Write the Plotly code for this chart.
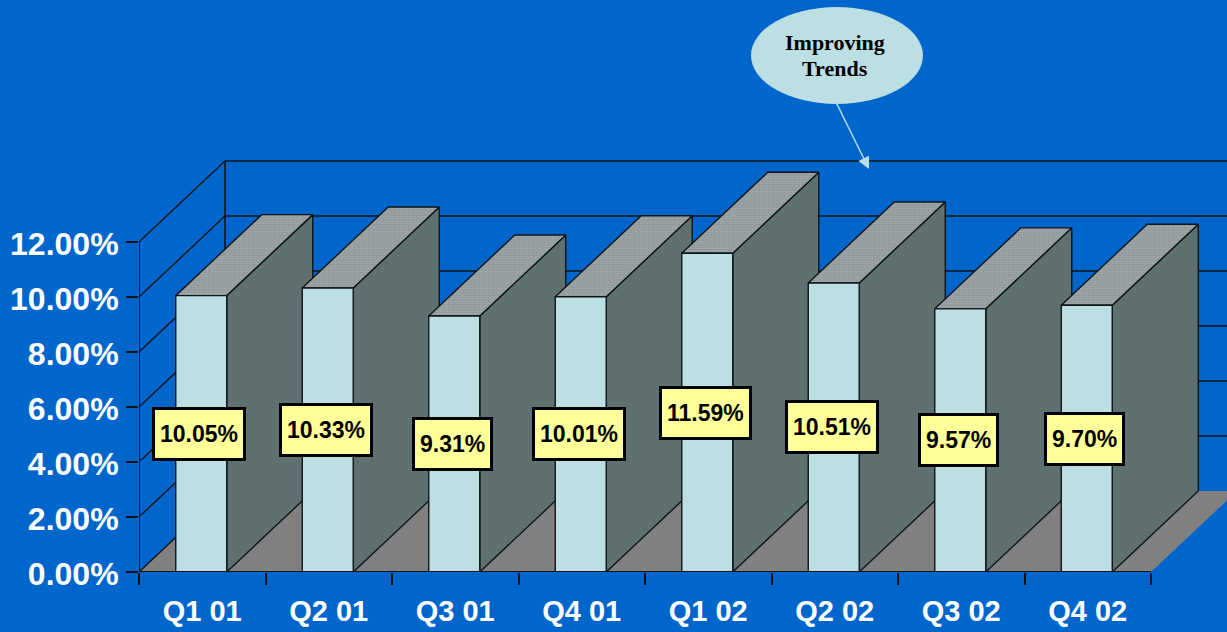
import plotly.graph_objects as go

# Quarterly figures
quarters = ["Q1 01", "Q2 01", "Q3 01", "Q4 01", "Q1 02", "Q2 02", "Q3 02", "Q4 02"]
rates = [10.05, 10.33, 9.31, 10.01, 11.59, 10.51, 9.57, 9.70]
y_ticks = [0, 2, 4, 6, 8, 10, 12]
y_tick_labels = ["0.00%", "2.00%", "4.00%", "6.00%", "8.00%", "10.00%", "12.00%"]
callout_lines = ["Improving", "Trends"]

BLUE = "#0066CC"
PALE = "#BBDFE3"
SIDE = "#5F7070"
FLOOR = "#808080"
EDGE = "#101418"

# Canvas and the scale of the front plane
WIDTH, HEIGHT = 1227, 632
LEFT, BOTTOM = 139, 60
PX_PER_CAT = 126.5
PX_PER_PCT = 27.5
X_MIN = -0.5
X_MAX = X_MIN + (WIDTH - LEFT) / PX_PER_CAT
Y_MAX = (HEIGHT - BOTTOM) / PX_PER_PCT

# Oblique depth offset of the 3-D projection, in axis units
DX = 86 / PX_PER_CAT
DY = 81 / PX_PER_PCT
BAR_W = 51 / PX_PER_CAT
BAR_SHIFT = -1 / PX_PER_CAT
X_END = len(quarters) - 0.5


def to_x(px):
    return (px - LEFT) / PX_PER_CAT + X_MIN


def to_y(px):
    return (HEIGHT - BOTTOM - px) / PX_PER_PCT


def poly(xs, ys, fill, line=True, pattern=None):
    return go.Scatter(
        x=xs, y=ys, mode="lines", fill="toself", fillcolor=fill,
        fillpattern=pattern,
        line=dict(color=EDGE if line else fill, width=1.4 if line else 0),
        hoverinfo="skip", showlegend=False,
    )


def rule(xs, ys, width=1.4):
    return go.Scatter(
        x=xs, y=ys, mode="lines", line=dict(color=EDGE, width=width),
        hoverinfo="skip", showlegend=False,
    )


fig = go.Figure()

# Back wall rules and the vertical edge behind the value axis
for t in y_ticks[1:]:
    fig.add_trace(rule([X_MIN + DX, X_MAX + 1], [t + DY, t + DY], 1.6))
fig.add_trace(rule([X_MIN + DX, X_MIN + DX], [DY, 12 + DY], 1.6))

# Floor
fig.add_trace(poly(
    [X_MIN, X_END, X_END + DX, X_MIN + DX, X_MIN],
    [0, 0, DY, DY, 0], FLOOR, line=False,
))

# Side wall diagonals
for t in y_ticks:
    fig.add_trace(rule([X_MIN, X_MIN + DX], [t, t + DY]))

# Bars, left to right so each front hides the side of its neighbour
top_pattern = dict(shape=".", size=2.5, solidity=0.4, fgcolor="#B4CCC4", bgcolor="#90969A")
for i, v in enumerate(rates):
    x0, x1 = i + BAR_SHIFT - BAR_W / 2, i + BAR_SHIFT + BAR_W / 2
    fig.add_trace(poly(
        [x1, x1 + DX, x1 + DX, x1, x1],
        [0, DY, v + DY, v, 0], SIDE,
    ))
    fig.add_trace(poly(
        [x0, x1, x1 + DX, x0 + DX, x0],
        [v, v, v + DY, v + DY, v], "#90969A", pattern=top_pattern,
    ))
    fig.add_trace(poly(
        [x0, x1, x1, x0, x0],
        [0, 0, v, v, 0], PALE,
    ))

# Front axis lines
fig.add_trace(rule([X_MIN, X_END], [0, 0], 2))
fig.add_trace(rule([X_MIN, X_MIN], [0, 12], 2))

# Value labels, centred at half the height of each bar
annotations = [
    dict(
        x=i - 0.024, y=v / 2, xref="x", yref="y",
        text=f"{v:.2f}%", showarrow=False,
        font=dict(family="Liberation Sans", size=23, color="#000000", weight="bold"),
        bgcolor="#FFFF99", bordercolor="#000000", borderwidth=3,
        borderpad=5, height=38,
    )
    for i, v in enumerate(rates)
]

# Callout text, one annotation per line, and its pointer
for line_text, line_px in zip(callout_lines, (42, 68)):
    annotations.append(dict(
        x=to_x(835), y=to_y(line_px), xref="x", yref="y",
        text=line_text, showarrow=False,
        font=dict(family="Liberation Serif", size=22, color="#000000", weight="bold"),
    ))
annotations.append(dict(
    x=to_x(869), y=to_y(169), ax=to_x(832.5), ay=to_y(95),
    xref="x", yref="y", axref="x", ayref="y", text=" ", showarrow=True,
    arrowhead=2, arrowsize=1.7, arrowwidth=1.4, arrowcolor=PALE,
))

fig.update_layout(
    width=WIDTH, height=HEIGHT,
    margin=dict(l=LEFT, r=0, t=0, b=BOTTOM, pad=0),
    paper_bgcolor=BLUE, plot_bgcolor=BLUE,
    showlegend=False,
    annotations=annotations,
    shapes=[dict(
        type="circle", xref="x", yref="y",
        x0=to_x(751), x1=to_x(923), y0=to_y(104), y1=to_y(7),
        fillcolor=PALE, line=dict(width=0),
    )],
    xaxis=dict(
        range=[X_MIN, X_MAX], showgrid=False, zeroline=False, showline=False,
        tickmode="array", tickvals=list(range(len(quarters))), ticktext=quarters,
        ticks="", ticklabelstandoff=19,
        tickfont=dict(family="Liberation Sans", size=29, color="white", weight="bold"),
        minor=dict(
            tickmode="array", tickvals=[i - 0.5 for i in range(len(quarters) + 1)],
            ticks="outside", ticklen=12, tickwidth=2, tickcolor=EDGE, showgrid=False,
        ),
    ),
    yaxis=dict(
        range=[0, Y_MAX], showgrid=False, zeroline=False, showline=False,
        tickmode="array", tickvals=y_ticks, ticktext=y_tick_labels,
        ticks="outside", ticklen=12, tickwidth=2, tickcolor=EDGE,
        ticklabelstandoff=1, ticklabelshift=2,
        tickfont=dict(family="Liberation Sans", size=32, color="white", weight="bold"),
    ),
)

fig.write_html("out.html", config=dict(displayModeBar=False))
